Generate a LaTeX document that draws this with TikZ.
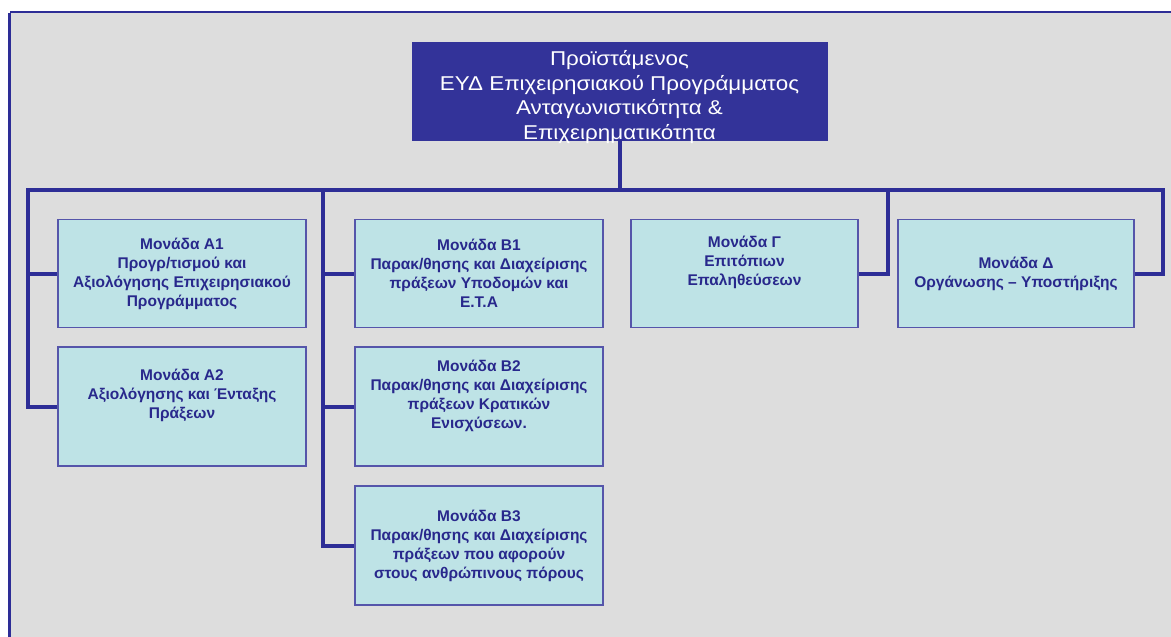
\documentclass[tikz,border=0pt]{standalone}
\usepackage{fontspec}
\setmainfont{Liberation Sans}
\newfontfamily\headfont[FakeStretch=1.12]{Liberation Sans}
\usepackage{tikz}
\usetikzlibrary{shapes,arrows}
\usetikzlibrary{positioning}
\definecolor{navy}{RGB}{51,51,153}
\definecolor{lineblue}{RGB}{45,45,150}
\definecolor{boxedge}{RGB}{85,85,170}
\definecolor{boxfill}{RGB}{190,227,230}
\definecolor{boxtext}{RGB}{40,40,140}
\definecolor{paper}{RGB}{221,221,221}
\tikzstyle{head} = [draw=navy, fill=navy, text=white, align=center,
    minimum width=415pt, minimum height=98pt, inner xsep=0pt, inner ysep=-4pt,
    font=\headfont\fontsize{20}{24.8}\selectfont]
\tikzstyle{unit} = [draw=boxedge, line width=1.5pt, fill=boxfill, text=boxtext,
    align=center, minimum width=248pt, minimum height=108pt, inner sep=0pt,
    font=\bfseries\fontsize{15.5}{19}\selectfont]
\tikzstyle{bus} = [lineblue, line width=4pt]

\begin{document}
\begin{tikzpicture}[x=1pt, y=-1pt]
  \useasboundingbox (0,0) rectangle (1171,637);
  \fill[white] (0,0) rectangle (1171,637);
  \fill[paper] (10,13) rectangle (1171,637);
  \draw[lineblue, line width=2pt] (10,12) -- (1171,12);
  \draw[lineblue, line width=3pt] (9.5,13) -- (9.5,637);

  \node [head] (top) at (619.5,91) {\rule{0pt}{27pt}Προϊστάμενος\\ ΕΥΔ Επιχειρησιακού Προγράμματος\\ Ανταγωνιστικότητα \&\\ Επιχειρηματικότητα};
  \node [unit] (a1) at (182,273.5) {Μονάδα Α1\\ Προγρ/τισμού και\\ Αξιολόγησης Επιχειρησιακού\\ Προγράμματος};
  \node [unit, below of=a1, node distance=133pt, minimum height=119pt] (a2) {Μονάδα Α2\\ Αξιολόγησης και Ένταξης\\ Πράξεων\\ \strut};
  \node [unit, right of=a1, node distance=297pt] (b1) {Μονάδα Β1\\ Παρακ/θησης και Διαχείρισης\\ πράξεων Υποδομών και\\ Ε.Τ.Α};
  \node [unit, below of=b1, node distance=133pt, minimum height=119pt] (b2) {Μονάδα Β2\\ Παρακ/θησης και Διαχείρισης\\ πράξεων Κρατικών\\ Ενισχύσεων.\\ \strut};
  \node [unit, below of=b2, node distance=139pt, minimum height=119pt] (b3) {Μονάδα Β3\\ Παρακ/θησης και Διαχείρισης\\ πράξεων που αφορούν\\ στους ανθρώπινους πόρους};
  \node [unit, right of=b1, node distance=265.5pt, minimum width=227pt] (g) {Μονάδα Γ\\ Επιτόπιων\\ Επαληθεύσεων\\ \strut};
  \node [unit, right of=g, node distance=271.5pt, minimum width=236pt] (d) {Μονάδα Δ\\ Οργάνωσης -- Υποστήριξης};

  \coordinate (busl) at (28,190);
  \coordinate (busr) at (1163,190);
  \coordinate (btap) at (323,190);
  \coordinate (gtap) at (888,190);
  \draw [bus] (top.south) -- (top.south |- busl);
  \draw [bus, line cap=rect] (busl) -- (busr);
  \draw [bus] (busl) |- (a2.west);
  \draw [bus] (a1.west -| busl) -- (a1.west);
  \draw [bus] (btap) |- (b3.west);
  \draw [bus] (b1.west -| btap) -- (b1.west);
  \draw [bus] (b2.west -| btap) -- (b2.west);
  \draw [bus] (gtap) |- (g.east);
  \draw [bus] (busr) |- (d.east);
\end{tikzpicture}
\end{document}
